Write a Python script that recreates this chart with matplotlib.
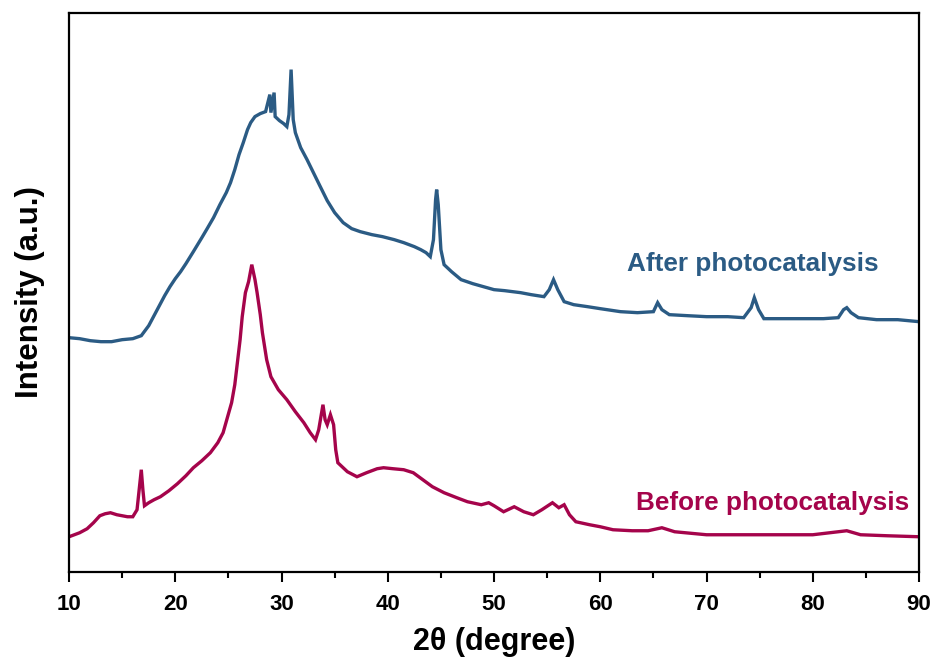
import matplotlib
matplotlib.use("Agg")
import matplotlib.pyplot as plt
from matplotlib.ticker import MultipleLocator

# XRD patterns (2theta in degree, intensity in a.u.)
after_2theta = [10.0, 11.0, 12.0, 13.0, 14.0, 15.0, 16.0, 16.8, 17.5, 18.0, 18.5, 19.0, 19.5,
                20.0, 20.5, 21.0, 21.7, 22.5, 23.0, 23.6, 24.2, 24.8, 25.2, 25.6, 26.0, 26.4,
                26.8, 27.1, 27.5, 28.0, 28.5, 28.9, 29.0, 29.3, 29.4, 29.8, 30.2, 30.5, 30.7,
                30.9, 31.1, 31.3, 31.8, 32.4, 33.0, 33.6, 34.3, 35.0, 35.8, 36.6, 37.4, 38.5,
                39.5, 40.6, 41.5, 42.5, 43.1, 43.6, 44.0, 44.3, 44.5, 44.6, 44.75, 45.0, 45.3,
                46.0, 46.9, 48.0, 49.0, 50.0, 51.0, 52.5, 53.5, 54.7, 55.2, 55.6, 56.0, 56.6,
                57.5, 58.8, 60.0, 61.9, 63.5, 65.0, 65.4, 65.8, 66.5, 68.2, 70.0, 72.0, 73.5,
                74.2, 74.5, 74.9, 75.4, 77.0, 79.0, 81.0, 82.4, 82.9, 83.2, 83.6, 84.3, 86.0,
                88.0, 90.0]
after_int = [234, 233, 231, 230, 230, 232, 233, 236, 246, 256, 266, 276, 285,
             293, 300, 308, 320, 334, 343, 354, 367, 379, 389, 402, 417, 429,
             442, 449, 455, 458, 460, 477, 459, 479, 455, 451, 448, 445, 457,
             502, 452, 439, 424, 412, 399, 386, 371, 359, 349, 343, 340, 337,
             335, 332, 329, 325, 322, 319, 315, 332, 372, 382, 367, 322, 307,
             300, 292, 288, 285, 282, 281, 279, 277, 275, 282, 292, 282, 270,
             267, 265, 263, 260, 259, 260, 269, 262, 257, 256, 255, 255, 254,
             264, 274, 262, 253, 253, 253, 253, 254, 262, 264, 259, 254, 252,
             252, 250]

before_2theta = [10.0, 10.5, 11.0, 11.7, 12.3, 12.9, 13.4, 13.9, 14.5, 15.0, 15.5, 16.0, 16.4,
                 16.6, 16.8, 16.95, 17.1, 17.5, 18.0, 18.6, 19.4, 20.2, 21.0, 21.7, 22.5, 23.3,
                 24.0, 24.5, 24.9, 25.3, 25.6, 25.8, 26.1, 26.3, 26.6, 26.9, 27.2, 27.5, 27.7,
                 28.0, 28.2, 28.6, 29.0, 29.7, 30.5, 31.3, 32.1, 32.7, 33.2, 33.5, 33.9, 34.1,
                 34.3, 34.6, 34.9, 35.1, 35.3, 36.2, 37.1, 38.0, 39.0, 39.6, 40.5, 41.5, 42.4,
                 43.3, 44.2, 45.3, 46.5, 47.5, 48.8, 49.5, 50.0, 50.9, 51.9, 52.8, 53.7, 54.5,
                 55.5, 56.1, 56.6, 57.1, 57.7, 59.0, 60.0, 61.2, 63.0, 64.5, 65.8, 67.0, 70.0,
                 73.0, 75.0, 77.2, 80.0, 83.2, 84.5, 87.0, 90.0]
before_int = [35, 37, 39, 43, 49, 56, 58, 59, 57, 56, 55, 55, 62,
              82, 102, 82, 66, 69, 72, 75, 81, 88, 96, 104, 111, 119,
              129, 139, 154, 169, 187, 205, 232, 255, 279, 290, 307, 292, 279,
              257, 239, 212, 195, 182, 172, 160, 149, 139, 132, 142, 167, 152,
              147, 157, 147, 122, 109, 100, 95, 99, 103, 104, 103, 102, 99,
              92, 85, 79, 74, 70, 67, 69, 66, 60, 65, 60, 57, 62,
              69, 64, 67, 57, 50, 47, 45, 42, 41, 41, 44, 40, 37,
              37, 37, 37, 37, 41, 37, 36, 35]

after_color = "#2b5b84"
before_color = "#a5044b"
font = "Liberation Sans"

fig = plt.figure(figsize=(9.33, 6.61), dpi=100)
ax = fig.add_axes([0.074, 0.135, 0.911, 0.846])

ax.plot(after_2theta, after_int, color=after_color, lw=2.4, solid_joinstyle="miter")
ax.plot(before_2theta, before_int, color=before_color, lw=2.4, solid_joinstyle="miter")

ax.text(62.5, 308, "After photocatalysis", color=after_color, fontsize=18.8,
        fontweight="bold", family=font, ha="left", va="center")
ax.text(63.4, 69, "Before photocatalysis", color=before_color, fontsize=18.8,
        fontweight="bold", family=font, ha="left", va="center")

ax.set_xlim(10, 90)
ax.set_ylim(0, 559)
ax.xaxis.set_major_locator(MultipleLocator(10))
ax.xaxis.set_minor_locator(MultipleLocator(5))
ax.set_yticks([])
ax.tick_params(axis="x", which="major", direction="out", length=7, width=1.5, pad=9)
ax.tick_params(axis="x", which="minor", direction="out", length=4, width=1.5)
for lab in ax.get_xticklabels():
    lab.set_family(font)
    lab.set_fontweight("bold")
    lab.set_fontsize(16)
for sp in ax.spines.values():
    sp.set_linewidth(1.6)

ax.set_xlabel("2θ (degree)", fontsize=22, fontweight="bold", family=font, labelpad=9)
ax.set_ylabel("Intensity (a.u.)", fontsize=22.5, fontweight="bold", family=font, labelpad=17)

fig.savefig("out.png", dpi=100)
